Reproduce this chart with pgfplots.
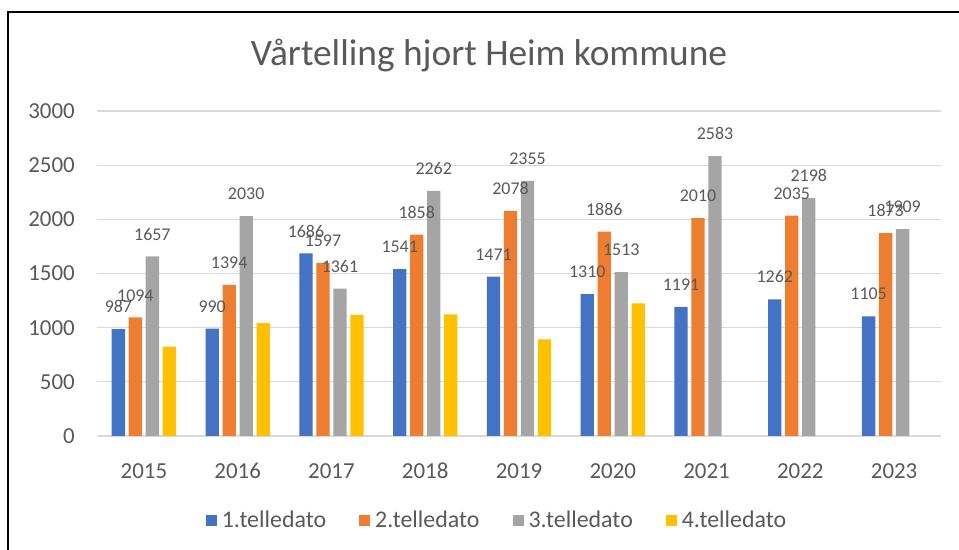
\documentclass[border=0pt]{standalone}
\usepackage{fontspec}
\setmainfont{Carlito}
\usepackage{pgfplots}
\pgfplotsset{compat=1.18}

\definecolor{s1}{HTML}{4472C4}
\definecolor{s2}{HTML}{ED7D31}
\definecolor{s3}{HTML}{A5A5A5}
\definecolor{s4}{HTML}{FFC000}
\definecolor{txt}{HTML}{595959}
\definecolor{gridc}{HTML}{D9D9D9}

\begin{document}
\begin{tikzpicture}
\useasboundingbox (0,0) rectangle (959bp,550bp);
% chart frame (only left and top visible)
\draw[line width=2bp] (8bp,0) -- (8bp,537.5bp) -- (960bp,537.5bp);
% title
\node[anchor=base, inner sep=0pt, text=txt, font=\fontsize{37.5}{42}\selectfont]
  at (489bp,484bp) {Vårtelling hjort Heim kommune};

\begin{axis}[
  at={(97bp,114bp)}, anchor=south west,
  scale only axis, width=844bp, height=325bp,
  ybar=3.7bp, bar width=13.3bp,
  every axis plot post/.append style={
    legend image code/.code={\fill[##1] (0bp,-5.5bp) rectangle (11bp,5.5bp);}},
  xmin=-0.5, xmax=8.5, ymin=0, ymax=3000,
  xtick={0,...,8},
  xticklabels={2015,2016,2017,2018,2019,2020,2021,2022,2023},
  ytick={0,500,...,3000},
  ymajorgrids, grid style={color=gridc, line width=1.2bp},
  axis line style={draw=none}, tick style={draw=none},
  /pgf/number format/assume math mode=true,
  /pgf/number format/1000 sep={},
  ticklabel style={font=\fontsize{23}{27}\selectfont, text=txt, inner sep=0pt},
  yticklabel style={anchor=east, xshift=-22bp},
  xticklabel style={anchor=base, yshift=-38bp},
  legend columns=4,
  legend style={draw=none, fill=none, at={(0.4728,-0.2585)}, anchor=center,
    font=\fontsize{24}{28}\selectfont, text=txt,
    nodes={inner sep=0pt},
    /tikz/every odd column/.append style={column sep=5bp},
    /tikz/every even column/.append style={column sep=33bp}},
  lbl/.style={nodes near coords,
    every node near coord/.append style={anchor=south, inner sep=0pt, yshift=16bp,
      text=txt, font=\fontsize{18}{21}\selectfont}},
]
\addplot[fill=s1, draw=none, lbl] coordinates {
  (0,987) (1,990) (2,1686) (3,1541) (4,1471) (5,1310) (6,1191) (7,1262) (8,1105)};
\addplot[fill=s2, draw=none, lbl] coordinates {
  (0,1094) (1,1394) (2,1597) (3,1858) (4,2078) (5,1886) (6,2010) (7,2035) (8,1873)};
\addplot[fill=s3, draw=none, lbl] coordinates {
  (0,1657) (1,2030) (2,1361) (3,2262) (4,2355) (5,1513) (6,2583) (7,2198) (8,1909)};
\addplot[fill=s4, draw=none] coordinates {
  (0,824) (1,1043) (2,1117) (3,1122) (4,893) (5,1225)};
\legend{1.telledato, 2.telledato, 3.telledato, 4.telledato}
\end{axis}
\end{tikzpicture}
\end{document}
